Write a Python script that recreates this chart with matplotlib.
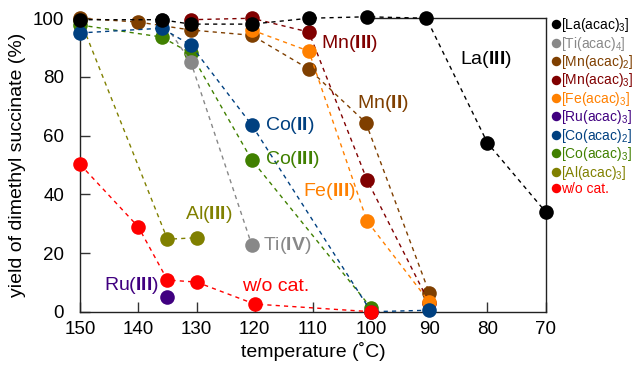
import matplotlib
matplotlib.use("Agg")
import matplotlib.pyplot as plt

plt.rcParams['font.family'] = ['Liberation Sans', 'DejaVu Sans']
plt.rcParams['mathtext.fontset'] = 'custom'
plt.rcParams['mathtext.rm'] = 'Liberation Sans'
plt.rcParams['mathtext.it'] = 'Liberation Sans:italic'
plt.rcParams['mathtext.bf'] = 'Liberation Sans:bold'

# ---- data ----
la_t = [150, 136, 131, 120.5, 110.7, 100.7, 90.5, 80, 70]
la_y = [99.5, 99.5, 98, 98, 100, 100.5, 100, 57.5, 34]

ti_t = [136, 131, 120.5]
ti_y = [99.5, 85.2, 22.7]

mn2_t = [150, 140, 131, 120.5, 110.7, 100.9, 90]
mn2_y = [100, 98.7, 96, 94.2, 82.7, 64.4, 6.4]

mn3_t = [131, 120.5, 110.7, 100.7, 90]
mn3_y = [99.5, 100, 95.3, 44.9, 3]

fe_t = [120.5, 110.7, 100.7, 90]
fe_y = [96, 88.8, 30.9, 3.3]

ru_t = [135]
ru_y = [5]

co2_t = [150, 136, 131, 120.5, 100, 90]
co2_y = [95, 96.6, 90.9, 63.6, 0, 0.5]

co3_t = [150, 136, 131, 120.5, 100]
co3_y = [97.7, 93.6, 88.1, 51.7, 1.3]

al_t = [150, 135, 130]
al_y = [99.5, 24.7, 25.2]

wo_t = [150, 140, 135, 130, 120, 100]
wo_y = [50.2, 28.9, 10.8, 10.1, 2.6, 0]

series = [
    (la_t, la_y, '#000000', r'[La(acac)$_3$]', 10),
    (ti_t, ti_y, '#888888', r'[Ti(acac)$_4$]', 7),
    (mn2_t, mn2_y, '#7f3f00', r'[Mn(acac)$_2$]', 4),
    (mn3_t, mn3_y, '#800000', r'[Mn(acac)$_3$]', 5),
    (fe_t, fe_y, '#ff8000', r'[Fe(acac)$_3$]', 6),
    (ru_t, ru_y, '#400080', r'[Ru(acac)$_3$]', 6),
    (co2_t, co2_y, '#004080', r'[Co(acac)$_2$]', 8),
    (co3_t, co3_y, '#408000', r'[Co(acac)$_3$]', 3),
    (al_t, al_y, '#808000', r'[Al(acac)$_3$]', 2),
    (wo_t, wo_y, '#ff0000', 'w/o cat.', 9),
]

fig = plt.figure(figsize=(6.36, 3.65), dpi=100)
ax = fig.add_axes([0.126, 0.146, 0.732, 0.804])

handles = []
for t, y, c, lab, z in series:
    ax.plot(t, y, linestyle=(0, (3, 3)), color=c, lw=1.0, zorder=z, clip_on=False)
    h, = ax.plot(t, y, linestyle='none', marker='o', ms=10.5, color=c,
                 mec='none', zorder=z + 0.5, clip_on=False, label=lab)
    handles.append(h)

ax.set_xlim(150, 70)
ax.set_ylim(0, 100)
ax.set_xticks([150, 140, 130, 120, 110, 100, 90, 80, 70])
ax.set_yticks([0, 20, 40, 60, 80, 100])
ax.tick_params(direction='in', length=7.5, width=1, labelsize=13.5, colors='#333333',
               labelcolor='black')
ax.tick_params(axis='x', pad=6.5)
ax.tick_params(axis='y', pad=11.5)
for s in ['left', 'bottom', 'right', 'top']:
    ax.spines[s].set_color('#222222')
    ax.spines[s].set_linewidth(1.0)
ax.spines['top'].set_bounds(100.7, 70)
ax.set_xlabel('temperature (˚C)', fontsize=14, labelpad=3)
ax.set_ylabel('yield of dimethyl succinate (%)', fontsize=14, labelpad=5)

# annotations
def lab(x, y, name, roman, c, ha='left'):
    ax.text(x, y, name + r'($\mathbf{' + roman + r'}$)', color=c, fontsize=14,
            ha=ha, va='center', zorder=20)

lab(84.8, 85.8, 'La', 'III', '#000000')
lab(108.6, 91.5, 'Mn', 'III', '#800000')
lab(102.4, 71.0, 'Mn', 'II', '#7f3f00')
lab(118.2, 63.6, 'Co', 'II', '#004080')
lab(118.2, 51.7, 'Co', 'III', '#408000')
lab(111.7, 40.8, 'Fe', 'III', '#ff8000')
lab(118.6, 22.7, 'Ti', 'IV', '#888888')
lab(131.9, 33.0, 'Al', 'III', '#808000')
lab(136.4, 9.1, 'Ru', 'III', '#400080', ha='right')
ax.text(122.2, 8.5, 'w/o cat.', color='#ff0000', fontsize=14, ha='left',
        va='center', zorder=20)

leg = ax.legend(handles=handles, loc='upper left', bbox_to_anchor=(0.995, 1.04),
                frameon=False, fontsize=10, handlelength=0.4, handletextpad=0.15,
                labelspacing=0.03, borderaxespad=0.3, markerscale=0.65)
for txt, (_, _, c, _, _) in zip(leg.get_texts(), series):
    txt.set_color(c)

fig.savefig('out.png', dpi=100)
